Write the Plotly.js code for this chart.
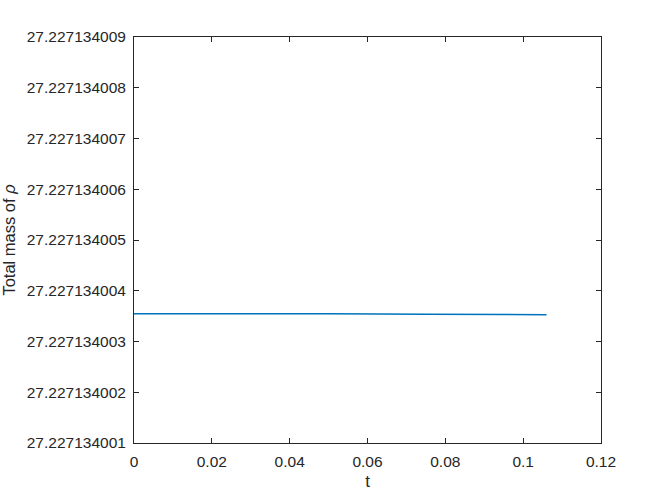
<!DOCTYPE html>
<html>
<head>
<meta charset="utf-8">
<script src="https://cdn.plot.ly/plotly-3.0.1.min.js"></script>
<style>html,body{margin:0;padding:0;background:#fff;}#chart{width:664px;height:498px;}</style>
</head>
<body>
<div id="chart"></div>
<script>
// Time samples and total mass values
const tValues = [0, 0.025, 0.05, 0.075, 0.106];
const massValues = [27.2271340035480, 27.2271340035520, 27.2271340035450, 27.2271340035380, 27.2271340035280];

const xTickVals = [0, 0.02, 0.04, 0.06, 0.08, 0.1, 0.12];
const xTickText = ['0', '0.02', '0.04', '0.06', '0.08', '0.1', '0.12'];
const yTickVals = [27.227134001, 27.227134002, 27.227134003, 27.227134004, 27.227134005, 27.227134006, 27.227134007, 27.227134008, 27.227134009];
const yTickText = ['27.227134001', '27.227134002', '27.227134003', '27.227134004', '27.227134005', '27.227134006', '27.227134007', '27.227134008', '27.227134009'];

const fontFam = 'Liberation Sans, Arial, sans-serif';
const axisCommon = {
  showgrid: false, zeroline: false, showline: true, mirror: 'allticks',
  linecolor: '#262626', linewidth: 1, ticks: 'inside', ticklen: 5, tickwidth: 1, tickcolor: '#262626',
  tickfont: {family: fontFam, size: 15.5, color: '#262626'}
};

const trace = {
  x: tValues, y: massValues, type: 'scatter', mode: 'lines',
  line: {color: '#0072BD', width: 1.5}, hoverinfo: 'skip'
};

const layout = {
  width: 664, height: 498,
  margin: {l: 134, r: 63, t: 37, b: 55},
  paper_bgcolor: '#ffffff', plot_bgcolor: '#ffffff',
  showlegend: false,
  xaxis: Object.assign({}, axisCommon, {
    range: [0, 0.12], tickmode: 'array', tickvals: xTickVals, ticktext: xTickText,
    ticklabelstandoff: 4,
    title: {text: 't', font: {family: fontFam, size: 17, color: '#262626'}, standoff: 6}
  }),
  yaxis: Object.assign({}, axisCommon, {
    range: [yTickVals[0], yTickVals[yTickVals.length - 1]], tickmode: 'array', tickvals: yTickVals, ticktext: yTickText,
    ticklabelstandoff: 4,
    title: {text: 'Total mass of <i>ρ</i>', font: {family: fontFam, size: 16.5, color: '#262626'}, standoff: 7}
  })
};

Plotly.newPlot('chart', [trace], layout, {staticPlot: true, displayModeBar: false});
</script>
</body>
</html>
